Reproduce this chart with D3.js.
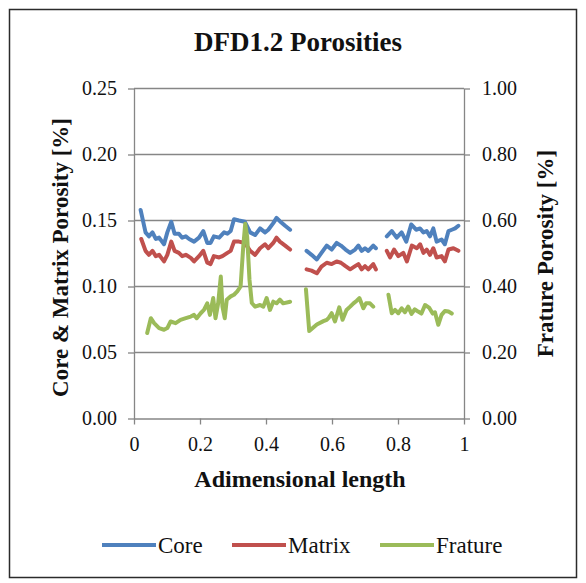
<!DOCTYPE html>
<html>
<head>
<meta charset="utf-8">
<script src="https://cdn.jsdelivr.net/npm/d3@7"></script>
<style>
  body { margin: 0; background: #fff; }
</style>
</head>
<body>
<div id="chart"></div>
<script>
// values, segments split with null
const coreX = [0.020,0.035,0.045,0.056,0.066,0.076,0.091,0.101,0.113,0.123,0.136,0.146,0.157,0.167,0.182,0.197,0.210,0.222,0.232,0.242,0.258,0.273,0.283,0.293,0.303,0.318,0.336,0.352,0.367,0.382,0.397,0.407,0.422,0.432,0.442,0.458,0.473,
  null,
  0.523,0.538,0.554,0.568,0.584,0.599,0.614,0.627,0.641,0.655,0.670,0.680,0.690,0.700,0.710,0.725,0.733,
  null,
  0.766,0.781,0.796,0.811,0.825,0.840,0.855,0.867,0.877,0.887,0.897,0.907,0.917,0.932,0.942,0.953,0.963,0.973,0.983];
const coreY = [0.158,0.141,0.138,0.141,0.136,0.137,0.132,0.141,0.149,0.140,0.140,0.137,0.138,0.136,0.134,0.137,0.142,0.133,0.133,0.138,0.137,0.141,0.140,0.142,0.151,0.150,0.149,0.141,0.139,0.144,0.141,0.143,0.148,0.152,0.1495,0.146,0.143,
  null,
  0.127,0.124,0.1205,0.1255,0.131,0.128,0.133,0.131,0.128,0.1255,0.128,0.131,0.127,0.129,0.127,0.131,0.129,
  null,
  0.138,0.142,0.137,0.141,0.134,0.147,0.143,0.144,0.141,0.142,0.138,0.144,0.134,0.1356,0.132,0.142,0.143,0.144,0.146];

const matrixX = [0.022,0.035,0.045,0.056,0.066,0.076,0.091,0.101,0.113,0.123,0.136,0.146,0.157,0.172,0.182,0.197,0.210,0.222,0.232,0.242,0.258,0.268,0.283,0.293,0.303,0.318,0.336,0.352,0.367,0.382,0.397,0.407,0.422,0.432,0.442,0.458,0.473,
  null,
  0.523,0.538,0.554,0.568,0.584,0.599,0.614,0.627,0.641,0.655,0.670,0.680,0.690,0.700,0.710,0.725,0.733,
  null,
  0.766,0.776,0.788,0.801,0.816,0.827,0.842,0.857,0.867,0.877,0.887,0.897,0.907,0.917,0.932,0.942,0.953,0.968,0.983];
const matrixY = [0.136,0.127,0.124,0.127,0.123,0.124,0.119,0.124,0.134,0.127,0.1255,0.123,0.124,0.1217,0.119,0.123,0.127,0.118,0.117,0.123,0.122,0.123,0.1255,0.127,0.134,0.134,0.133,0.127,0.124,0.129,0.132,0.129,0.133,0.137,0.134,0.131,0.128,
  null,
  0.113,0.112,0.110,0.115,0.118,0.117,0.119,0.118,0.1154,0.113,0.1154,0.117,0.113,0.1154,0.113,0.117,0.113,
  null,
  0.127,0.122,0.128,0.123,0.1255,0.119,0.131,0.129,0.132,0.1255,0.128,0.124,0.129,0.122,0.123,0.119,0.128,0.129,0.127];

const fratureX = [0.040,0.051,0.061,0.076,0.091,0.101,0.111,0.126,0.141,0.157,0.172,0.182,0.190,0.202,0.212,0.222,0.230,0.240,0.247,0.255,0.263,0.268,0.275,0.281,0.293,0.303,0.313,0.323,0.331,0.337,0.343,0.350,0.357,0.367,0.382,0.392,0.402,0.412,0.422,0.432,0.442,0.452,0.473,
  null,
  0.521,0.531,0.554,0.574,0.584,0.590,0.599,0.609,0.622,0.632,0.644,0.655,0.665,0.675,0.683,0.695,0.703,0.715,0.725,
  null,
  0.771,0.781,0.791,0.801,0.811,0.821,0.831,0.841,0.851,0.861,0.871,0.882,0.895,0.905,0.912,0.922,0.932,0.942,0.953,0.963];
const fratureY = [0.259,0.304,0.289,0.274,0.269,0.274,0.294,0.289,0.299,0.304,0.309,0.314,0.304,0.319,0.329,0.349,0.314,0.365,0.304,0.349,0.430,0.339,0.304,0.360,0.370,0.375,0.385,0.400,0.520,0.590,0.550,0.420,0.350,0.339,0.344,0.339,0.365,0.329,0.354,0.349,0.360,0.349,0.354,
  null,
  0.392,0.265,0.285,0.295,0.299,0.305,0.319,0.294,0.337,0.299,0.329,0.339,0.349,0.357,0.365,0.334,0.349,0.349,0.339,
  null,
  0.375,0.319,0.329,0.319,0.334,0.322,0.339,0.317,0.331,0.324,0.318,0.344,0.335,0.318,0.322,0.284,0.314,0.326,0.324,0.318];

const xTicks = [0, 0.2, 0.4, 0.6, 0.8, 1];
const leftTicks = [0, 0.05, 0.10, 0.15, 0.20, 0.25];
const rightTicks = [0, 0.2, 0.4, 0.6, 0.8, 1.0];
const seriesNames = ["Core", "Matrix", "Frature"];
const seriesColors = ["#4F81BD", "#C0504D", "#9BBB59"];

const W = 586, H = 583;
const plot = {left: 134, right: 464, top: 88.5, bottom: 418.5};
const FONT = "'Liberation Serif', 'Times New Roman', serif";

const svg = d3.select("#chart").append("svg")
  .attr("width", W).attr("height", H);

svg.append("rect")
  .attr("x", 9.5).attr("y", 9.5)
  .attr("width", 567).attr("height", 568)
  .attr("fill", "#fff").attr("stroke", "#2b2b2b").attr("stroke-width", 1.5);

let x = d3.scaleLinear().domain([0, 1]).range([plot.left, plot.right]);
let yL = d3.scaleLinear().domain([0, 0.25]).range([plot.bottom, plot.top]);
let yR = d3.scaleLinear().domain([0, 1]).range([plot.bottom, plot.top]);

const gridColor = "#868686";

// horizontal gridlines
svg.append("g").selectAll("line").data(leftTicks.slice(1)).enter()
  .append("line")
  .attr("x1", plot.left).attr("x2", plot.right)
  .attr("y1", d => yL(d)).attr("y2", d => yL(d))
  .attr("stroke", gridColor).attr("stroke-width", 1.3);

function styleAxis(g) {
  g.select(".domain").attr("stroke", gridColor).attr("stroke-width", 1.3);
  g.selectAll(".tick line").attr("stroke", gridColor).attr("stroke-width", 1.3);
  g.selectAll("text")
    .style("font-family", FONT)
    .style("font-size", "20px")
    .attr("fill", "#111");
}

svg.append("g")
  .attr("transform", `translate(0, ${plot.bottom})`)
  .call(d3.axisBottom(x).tickValues(xTicks).tickFormat(d3.format("")).tickSize(6).tickSizeOuter(0).tickPadding(12))
  .call(styleAxis);

svg.append("g")
  .attr("transform", `translate(${plot.left}, 0)`)
  .call(d3.axisLeft(yL).tickValues(leftTicks).tickFormat(d3.format(".2f")).tickSize(6).tickSizeOuter(0).tickPadding(11))
  .call(styleAxis);

svg.append("g")
  .attr("transform", `translate(${plot.right}, 0)`)
  .call(d3.axisRight(yR).tickValues(rightTicks).tickFormat(d3.format(".2f")).tickSize(6).tickSizeOuter(0).tickPadding(12))
  .call(styleAxis);

// series
function toPoints(xs, ys) {
  return xs.map((d, i) => ({x: d, y: ys[i]}));
}

let lineL = d3.line()
  .defined(d => d.x !== null)
  .x(d => x(d.x)).y(d => yL(d.y));
let lineR = d3.line()
  .defined(d => d.x !== null)
  .x(d => x(d.x)).y(d => yR(d.y));

const series = [
  {pts: toPoints(coreX, coreY), gen: lineL, color: seriesColors[0]},
  {pts: toPoints(matrixX, matrixY), gen: lineL, color: seriesColors[1]},
  {pts: toPoints(fratureX, fratureY), gen: lineR, color: seriesColors[2]}
];

svg.append("g").selectAll("path").data(series).enter()
  .append("path")
  .attr("d", d => d.gen(d.pts))
  .attr("fill", "none")
  .attr("stroke", d => d.color)
  .attr("stroke-width", 4)
  .attr("stroke-linejoin", "round")
  .attr("stroke-linecap", "round");

function label(sel, size, bold) {
  return sel.style("font-family", FONT)
    .style("font-size", size + "px")
    .style("font-weight", bold ? "bold" : "normal")
    .attr("fill", "#111");
}

// titles
svg.append("text")
  .attr("x", 298).attr("y", 51)
  .attr("text-anchor", "middle")
  .call(label, 27, true)
  .text("DFD1.2 Porosities");

svg.append("text")
  .attr("x", 300).attr("y", 487)
  .attr("text-anchor", "middle")
  .call(label, 24, true)
  .text("Adimensional length");

svg.append("text")
  .attr("transform", `translate(68, ${(plot.top + plot.bottom) / 2 + 4}) rotate(-90)`)
  .attr("text-anchor", "middle")
  .call(label, 23, true)
  .text("Core & Matrix Porosity [%]");

svg.append("text")
  .attr("transform", `translate(553, ${(plot.top + plot.bottom) / 2}) rotate(-90)`)
  .attr("text-anchor", "middle")
  .call(label, 23, true)
  .text("Frature Porosity [%]");

// legend
const legendX = [102, 232, 380];
let legend = svg.append("g").selectAll("g").data(seriesNames).enter()
  .append("g")
  .attr("transform", (d, i) => `translate(${legendX[i]}, 545)`);

legend.append("line")
  .attr("x1", 0).attr("x2", 54).attr("y1", 0).attr("y2", 0)
  .attr("stroke", (d, i) => seriesColors[i]).attr("stroke-width", 4);

legend.append("text")
  .attr("x", 56).attr("y", 8)
  .call(label, 23, false)
  .text(d => d);
</script>
</body>
</html>
